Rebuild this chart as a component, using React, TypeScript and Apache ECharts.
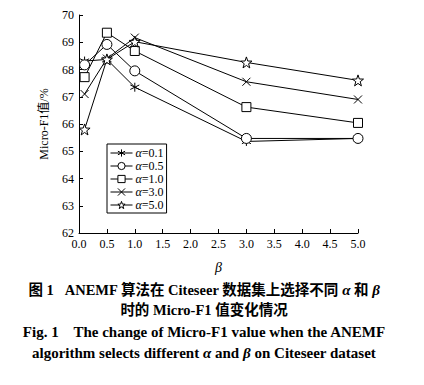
import React, { useEffect, useRef } from "react";
import * as echarts from "echarts";

const betas = [0.1, 0.5, 1.0, 3.0, 5.0];
const alphaNames = ["0.1", "0.5", "1.0", "3.0", "5.0"];
const a01 = [68.31, 68.37, 67.35, 65.36, 65.47];
const a05 = [68.17, 68.92, 67.95, 65.47, 65.47];
const a10 = [67.72, 69.35, 68.68, 66.62, 66.04];
const a30 = [67.1, 68.4, 69.17, 67.55, 66.9];
const a50 = [65.8, 68.37, 69.02, 68.26, 67.6];
const seriesValues = [a01, a05, a10, a30, a50];

const SYM_ASTERISK = "path://M5,0L5,10M0.67,2.5L9.33,7.5M0.67,7.5L9.33,2.5";
const SYM_X = "path://M0,0L10,10M0,10L10,0";
const SYM_CIRCLE = "path://M0,5A5,5,0,1,1,10,5A5,5,0,1,1,0,5Z";
const SYM_RECT = "path://M0,0L10,0L10,10L0,10Z";
const SYM_STAR =
  "path://M5,0L6.18,3.38L9.76,3.45L6.9,5.62L7.94,9.05L5,7L2.06,9.05L3.1,5.62L0.24,3.45L3.82,3.38Z";
const symbols = [SYM_ASTERISK, SYM_CIRCLE, SYM_RECT, SYM_X, SYM_STAR];
const symbolSizes = [9, 10, 9, 8, 11];
const symbolFills = ["#000", "#fff", "#fff", "#000", "#fff"];

const SERIF = "'Liberation Serif', 'Times New Roman', 'Noto Sans CJK SC', serif";

export default function App() {
  const ref = useRef<HTMLDivElement>(null);
  useEffect(() => {
    if (!ref.current) return;
    const chart = echarts.init(ref.current, null, { renderer: "svg" });
    const names = alphaNames.map((a) => "α=" + a);
    const series = seriesValues.map((vals, i) => ({
      name: names[i],
      type: "line",
      data: betas.map((b, j) => [b, vals[j]]),
      symbol: symbols[i],
      symbolSize: symbolSizes[i],
      showAllSymbol: true,
      lineStyle: { color: "#000", width: 1 },
      itemStyle: {
        color: symbolFills[i],
        borderColor: "#000",
        borderWidth: 1,
      },
      emphasis: { disabled: true },
      z: 2 + i,
    }));
    const italicRich = { i: { fontStyle: "italic", fontWeight: "bold", fontSize: 15, fontFamily: SERIF } };
    chart.setOption({
      animation: false,
      backgroundColor: "#fff",
      grid: { left: 79, right: 66, top: 15, bottom: 152 },
      legend: {
        orient: "vertical",
        left: 107,
        top: 144,
        padding: [3, 3, 2, 3],
        itemGap: 1,
        itemWidth: 22,
        itemHeight: 9,
        borderColor: "#000",
        borderWidth: 1,
        backgroundColor: "#fff",
        data: names.map((n, i) => ({
          name: n,
          itemStyle: { color: symbolFills[i], borderColor: "#000", borderWidth: 1 },
          lineStyle: { color: "#000", width: 1 },
        })),
        formatter: (name: string) => "{a|α}=" + name.slice(2),
        textStyle: {
          fontFamily: SERIF,
          fontSize: 12,
          color: "#000",
          padding: [0, 0, 0, -2],
          rich: { a: { fontStyle: "italic", fontFamily: SERIF, fontSize: 12, color: "#000" } },
        },
      },
      xAxis: {
        type: "value",
        min: 0,
        max: 5,
        interval: 0.5,
        name: "β",
        nameLocation: "middle",
        nameGap: 27,
        nameTextStyle: { fontFamily: SERIF, fontStyle: "italic", fontSize: 14, color: "#000" },
        axisLine: { lineStyle: { color: "#000", width: 1 } },
        axisTick: { inside: true, length: 4, lineStyle: { color: "#000" } },
        axisLabel: {
          formatter: (v: number) => v.toFixed(1),
          fontFamily: SERIF,
          fontSize: 12,
          color: "#000",
          margin: 5,
        },
        splitLine: { show: false },
      },
      yAxis: {
        type: "value",
        min: 62,
        max: 70,
        interval: 1,
        name: "Micro-F1值/%",
        nameLocation: "middle",
        nameGap: 29,
        nameTextStyle: { fontFamily: SERIF, fontSize: 12, color: "#000" },
        axisLine: { show: true, lineStyle: { color: "#000", width: 1 } },
        axisTick: { show: true, inside: true, length: 4, lineStyle: { color: "#000" } },
        axisLabel: { fontFamily: SERIF, fontSize: 12, color: "#000", margin: 5 },
        splitLine: { show: false },
      },
      series,
      graphic: [
        {
          type: "text",
          x: 204,
          y: 282,
          style: {
            text: "图 1   ANEMF 算法在 Citeseer 数据集上选择不同 {i|α} 和 {i|β}",
            font: `bold 14.5px ${SERIF}`,
            fill: "#000",
            align: "center",
            rich: italicRich,
          },
        },
        {
          type: "text",
          x: 204,
          y: 303,
          style: {
            text: "时的 Micro-F1 值变化情况",
            font: `bold 14.5px ${SERIF}`,
            fill: "#000",
            align: "center",
          },
        },
        {
          type: "text",
          x: 204,
          y: 324,
          style: {
            text: "Fig. 1    The change of Micro-F1 value when the ANEMF",
            font: `bold 15px ${SERIF}`,
            fill: "#000",
            align: "center",
          },
        },
        {
          type: "text",
          x: 204,
          y: 345,
          style: {
            text: "algorithm selects different {i|α} and {i|β} on Citeseer dataset",
            font: `bold 15px ${SERIF}`,
            fill: "#000",
            align: "center",
            rich: italicRich,
          },
        },
      ],
    });
    return () => chart.dispose();
  }, []);
  return <div ref={ref} style={{ width: 424, height: 385, position: "absolute", left: 0, top: 0 }} />;
}
